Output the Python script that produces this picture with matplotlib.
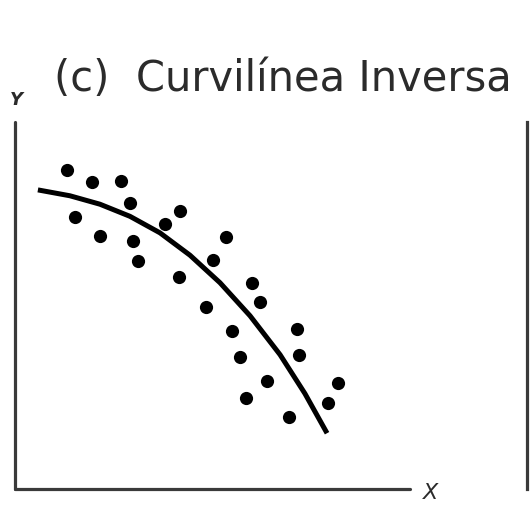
import numpy as np
import matplotlib.pyplot as plt

# scatter points (arbitrary units, axes span 0..10)
pts_x = [1.32, 1.95, 2.68, 2.91, 1.52, 2.15, 2.99, 3.11, 4.18, 3.80,
         4.15, 5.34, 5.01, 6.00, 6.20, 4.84, 5.49, 7.14, 7.19, 5.70,
         6.38, 8.18, 5.85, 7.92, 6.94]
pts_y = [8.69, 8.37, 8.39, 7.79, 7.41, 6.89, 6.76, 6.21, 7.57, 7.22,
         5.78, 6.87, 6.24, 5.61, 5.10, 4.96, 4.31, 4.36, 3.65, 3.60,
         2.94, 2.89, 2.48, 2.34, 1.96]

# trend curve
curve_x = [0.58, 1.39, 2.15, 2.91, 3.67, 4.43, 5.19, 5.95, 6.71, 7.34, 7.90]
curve_y = [8.15, 7.99, 7.76, 7.43, 6.98, 6.37, 5.62, 4.72, 3.66, 2.60, 1.52]

title = "(c)  Curvilínea Inversa"
W, H = 530, 508
ink = '#2b2b2b'

fig = plt.figure(figsize=(W / 100, H / 100), dpi=100)
ax = fig.add_axes([15 / W, 19 / H, 395 / W, 367 / H])
ax.set_xlim(0, 10)
ax.set_ylim(0, 10)
ax.plot(curve_x, curve_y, color='black', lw=3.6, solid_capstyle='butt', solid_joinstyle='round')
ax.plot(pts_x, pts_y, 'o', color='black', ms=9.5, mec='none')
for s in ['top', 'right']:
    ax.spines[s].set_visible(False)
for s in ['left', 'bottom']:
    ax.spines[s].set_linewidth(2.3)
    ax.spines[s].set_color('#3a3a3a')
    ax.spines[s].set_capstyle('round')
ax.set_xticks([])
ax.set_yticks([])

# edge of the neighbouring panel
ax2 = fig.add_axes([527 / W, 19 / H, 0.01, 367 / H])
ax2.set_xticks([])
ax2.set_yticks([])
for s in ['top', 'right', 'bottom']:
    ax2.spines[s].set_visible(False)
ax2.spines['left'].set_linewidth(2.3)
ax2.spines['left'].set_color('#3a3a3a')
ax2.patch.set_alpha(0)

fig.text(283 / W, (H - 91) / H, title, ha='center', va='baseline',
         fontsize=30, color=ink, family='DejaVu Sans')
fig.text(16 / W, (H - 100) / H, 'Y', ha='center', va='center',
         fontsize=13, fontweight='bold', style='italic', color=ink)
fig.text(431 / W, (H - 493) / H, 'X', ha='center', va='center',
         fontsize=16, style='italic', color=ink)

fig.savefig('out.png', dpi=100)
